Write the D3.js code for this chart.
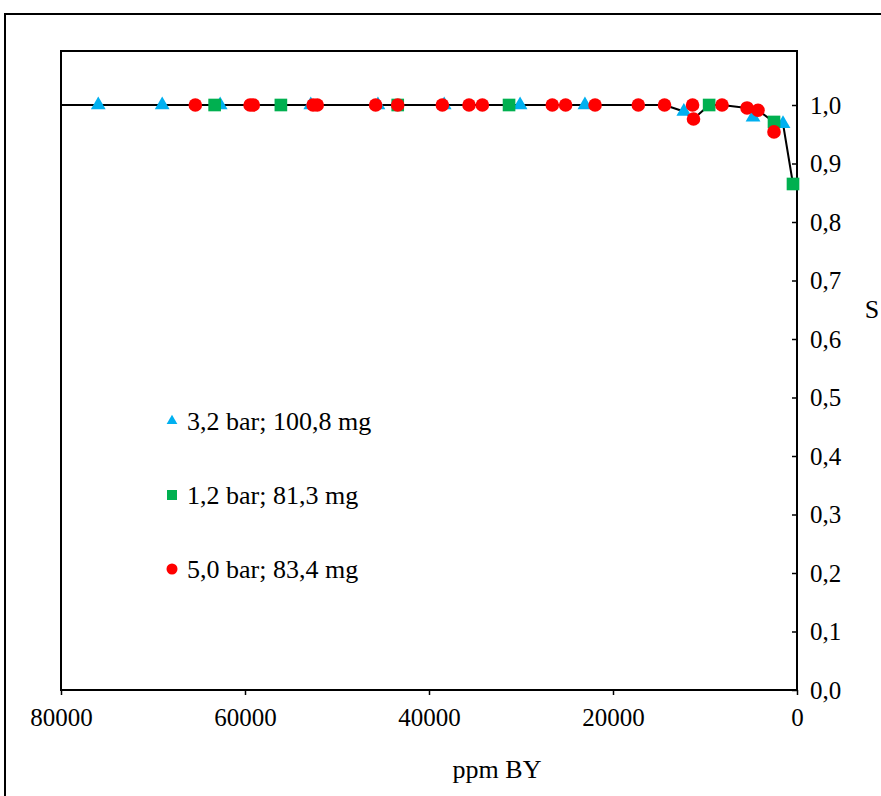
<!DOCTYPE html>
<html>
<head>
<meta charset="utf-8">
<script src="https://cdn.jsdelivr.net/npm/d3@7"></script>
<style>
  body { margin: 0; background: #fff; }
  text { font-family: "Liberation Serif", "Times New Roman", serif; fill: #000; }
</style>
</head>
<body>
<svg id="chart"></svg>
<script>
// data: [ppm BY, S]
const series32 = [[75950, 1.0], [69000, 1.0], [62700, 1.0], [52850, 1.0], [45550, 1.0],
  [38350, 1.0], [30100, 1.0], [23050, 1.0], [12300, 0.989], [4780, 0.979], [1520, 0.968]];
const series12 = [[63300, 1.0], [56100, 1.0], [43400, 1.0], [31300, 1.0], [9550, 1.0],
  [2500, 0.971], [435, 0.865]];
const series50 = [[65400, 1.0], [59450, 1.0], [59100, 1.0], [52600, 1.0], [52150, 1.0],
  [45800, 1.0], [43400, 1.0], [38550, 1.0], [35650, 1.0], [34200, 1.0], [26600, 1.0],
  [25150, 1.0], [21950, 1.0], [17250, 1.0], [14400, 1.0], [11350, 1.0], [11250, 0.976],
  [8150, 1.0], [5430, 0.995], [4240, 0.991], [2500, 0.954]];
// black curve through the points
const fitLine = [[80000, 1.0], [14400, 1.0], [12300, 0.989], [11250, 0.976], [9550, 1.0],
  [8150, 1.0], [5430, 0.995], [4240, 0.991], [2500, 0.971], [1520, 0.968], [435, 0.865]];

const legendLabels = ['3,2 bar; 100,8 mg', '1,2 bar; 81,3 mg', '5,0 bar; 83,4 mg'];
const xTicks = [80000, 60000, 40000, 20000, 0];
const yTicks = [0, 0.1, 0.2, 0.3, 0.4, 0.5, 0.6, 0.7, 0.8, 0.9, 1.0];

const W = 881, H = 796;
const margin = { top: 51, left: 61, right: 84, bottom: 106 };
const width = W - margin.left - margin.right;
const height = H - margin.top - margin.bottom;
const fontSize = '25px';
const bigFont = '26px';

const svg = d3.select('#chart').attr('width', W).attr('height', H);

// outer frame (runs off the right and bottom of the picture)
svg.append('rect')
    .attr('x', 5).attr('y', 14)
    .attr('width', W + 20).attr('height', H + 20)
    .attr('fill', 'none').attr('stroke', '#000').attr('stroke-width', 2);

const chart = svg.append('g')
    .attr('transform', `translate(${margin.left},${margin.top})`);

const xScale = d3.scaleLinear().domain([80000, 0]).range([0, width]);
const yScale = d3.scaleLinear().domain([0, 1]).range([height, 54]);

// axes
const xAxis = d3.axisBottom(xScale).tickValues(xTicks).tickSize(5).tickPadding(13)
    .tickFormat(d3.format('d'));
const yAxis = d3.axisRight(yScale).tickValues(yTicks).tickSize(-5).tickPadding(13)
    .tickFormat(d => d3.format('.1f')(d).replace('.', ','));

const xAxisG = chart.append('g')
    .attr('transform', `translate(0,${height})`)
    .call(xAxis);
const yAxisG = chart.append('g')
    .attr('transform', `translate(${width},0)`)
    .call(yAxis);

[xAxisG, yAxisG].forEach(g => {
  g.select('.domain').remove();
  g.selectAll('.tick line').attr('stroke', '#000').attr('stroke-width', 1.5);
  g.selectAll('.tick text').style('font-size', fontSize)
      .style('font-family', '"Liberation Serif", serif');
});
yAxisG.selectAll('.tick text').attr('dy', '0.32em');

// plot frame
chart.append('rect')
    .attr('width', width).attr('height', height)
    .attr('fill', 'none').attr('stroke', '#000').attr('stroke-width', 2);

// axis titles
svg.append('text')
    .attr('x', 497).attr('y', 778)
    .attr('text-anchor', 'middle')
    .style('font-size', bigFont)
    .text('ppm BY');

svg.append('text')
    .attr('x', 872).attr('y', 318)
    .attr('text-anchor', 'middle')
    .style('font-size', bigFont)
    .text('S');

// line
const line = d3.line().x(d => xScale(d[0])).y(d => yScale(d[1]));
chart.append('path')
    .datum(fitLine)
    .attr('d', line)
    .attr('fill', 'none')
    .attr('stroke', '#000')
    .attr('stroke-width', 2);

// markers
const tri = d3.symbol().type(d3.symbolTriangle).size(95);
const sq = d3.symbol().type(d3.symbolSquare).size(160);

chart.selectAll('.tri')
    .data(series32)
  .join('path')
    .attr('class', 'tri')
    .attr('d', tri)
    .attr('transform', d => `translate(${xScale(d[0])},${yScale(d[1])})`)
    .attr('fill', '#00b0f0');

chart.selectAll('.sq')
    .data(series12)
  .join('path')
    .attr('class', 'sq')
    .attr('d', sq)
    .attr('transform', d => `translate(${xScale(d[0])},${yScale(d[1])})`)
    .attr('fill', '#00b050');

chart.selectAll('.dot')
    .data(series50)
  .join('circle')
    .attr('class', 'dot')
    .attr('r', 6.8)
    .attr('cx', d => xScale(d[0]))
    .attr('cy', d => yScale(d[1]))
    .attr('fill', '#ff0000');

// legend
const legendSymbols = [
  d3.symbol().type(d3.symbolTriangle).size(50)(),
  d3.symbol().type(d3.symbolSquare).size(100)(),
  d3.symbol().type(d3.symbolCircle).size(95)()
];
const legendColors = ['#00b0f0', '#00b050', '#ff0000'];

const legend = svg.append('g').attr('transform', 'translate(172,421)');
const items = legend.selectAll('g')
    .data(legendLabels)
  .join('g')
    .attr('transform', (d, i) => `translate(0,${i * 74})`);
items.append('path')
    .attr('d', (d, i) => legendSymbols[i])
    .attr('fill', (d, i) => legendColors[i]);
items.append('text')
    .attr('x', 15).attr('dy', '0.33em')
    .style('font-size', bigFont)
    .text(d => d);
</script>
</body>
</html>
